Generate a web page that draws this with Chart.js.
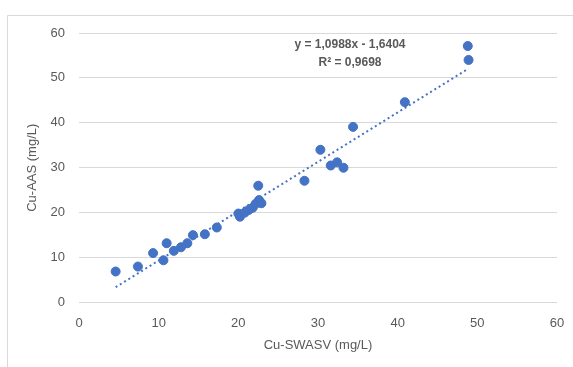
<!DOCTYPE html>
<html>
<head>
<meta charset="utf-8">
<script src="https://cdn.jsdelivr.net/npm/chart.js@4"></script>
<style>
  body { margin: 0; background: #fff; }
  canvas { display: block; }
</style>
</head>
<body>
<canvas id="cuChart" width="573" height="367"></canvas>
<script>
// Cu-SWASV (x) vs Cu-AAS (y), mg/L
const swasv = [4.6, 7.4, 9.3, 10.6, 11.0, 11.9, 12.8, 13.6, 14.3, 15.8, 17.3,
               20.0, 20.2, 20.8, 21.3, 21.8, 22.2, 22.6, 22.9, 22.5,
               28.3, 30.3, 31.6, 32.4, 33.2, 34.4, 40.9, 48.8, 48.9];
const aas   = [6.9, 8.0, 11.0, 9.4, 13.2, 11.5, 12.3, 13.2, 15.0, 15.2, 16.7,
               19.8, 19.1, 20.0, 20.6, 21.1, 22.0, 22.8, 22.1, 26.0,
               27.1, 34.0, 30.5, 31.2, 30.0, 39.1, 44.6, 57.1, 54.0];

// linear trendline end points (y = 1,0988x - 1,6404)
const trendX = [4.6, 48.9];
const trendY = [3.41, 52.09];
const trendLabels = ['y = 1,0988x - 1,6404', 'R² = 0,9698'];

const axisTicks = [0, 10, 20, 30, 40, 50, 60];

const grey = '#595959';
const blue = '#4472C4';
const fontFamily = '"Liberation Sans", Arial, sans-serif';

const points = swasv.map((x, i) => ({ x: x, y: aas[i] }));
const trend = trendX.map((x, i) => ({ x: x, y: trendY[i] }));

/* frame around the chart + equation text */
const frame = {
  id: 'frame',
  beforeDraw(chart) {
    const ctx = chart.ctx;
    ctx.save();
    ctx.fillStyle = '#fff';
    ctx.fillRect(0, 0, chart.width, chart.height);
    ctx.strokeStyle = '#d9d9d9';
    ctx.lineWidth = 1;
    ctx.beginPath();
    ctx.moveTo(7.5, chart.height);
    ctx.lineTo(7.5, 15.5);
    ctx.lineTo(chart.width, 15.5);
    ctx.stroke();
    ctx.restore();
  },
  afterDraw(chart) {
    const ctx = chart.ctx;
    ctx.save();
    ctx.fillStyle = grey;
    ctx.font = 'bold 12px ' + fontFamily;
    ctx.textAlign = 'center';
    ctx.textBaseline = 'middle';
    ctx.fillText(trendLabels[0], 350, 45);
    ctx.fillText(trendLabels[1], 350, 63);
    ctx.restore();
  }
};

new Chart(document.getElementById('cuChart'), {
  type: 'scatter',
  data: {
    datasets: [{
      label: 'Cu',
      data: points,
      backgroundColor: blue,
      borderColor: blue,
      pointRadius: 4.5,
      pointHoverRadius: 4.5
    }, {
      type: 'line',
      label: 'Linear',
      data: trend,
      borderColor: blue,
      borderWidth: 2,
      borderDash: [2, 3],
      pointRadius: 0,
      fill: false
    }]
  },
  options: {
    responsive: false,
    animation: false,
    events: [],
    layout: { padding: { left: 0, top: 33, right: 16, bottom: 0 } },
    plugins: { legend: { display: false }, tooltip: { enabled: false } },
    scales: {
      x: {
        type: 'linear',
        min: 0, max: 60,
        afterBuildTicks: s => { s.ticks = axisTicks.map(v => ({ value: v })); },
        afterFit: s => { s.height = 64.5; s.paddingLeft = 0; s.paddingRight = 0; },
        grid: { display: false, drawTicks: false },
        border: { display: false },
        ticks: { color: grey, padding: 13, font: { family: fontFamily, size: 13 } },
        title: {
          display: true, text: 'Cu-SWASV (mg/L)', color: grey,
          font: { family: fontFamily, size: 13 }, padding: { top: 0, bottom: 14 }
        }
      },
      y: {
        min: 0, max: 60,
        afterBuildTicks: s => { s.ticks = axisTicks.map(v => ({ value: v })); },
        afterFit: s => { s.width = 79; s.paddingTop = 0; s.paddingBottom = 0; },
        grid: { color: '#d9d9d9', lineWidth: 1, drawTicks: false },
        border: { display: false },
        ticks: { color: grey, padding: 14, font: { family: fontFamily, size: 13 } },
        title: {
          display: true, text: 'Cu-AAS (mg/L)', color: grey,
          font: { family: fontFamily, size: 13 }, padding: { top: 25, bottom: 0 }
        }
      }
    }
  },
  plugins: [frame]
});
</script>
</body>
</html>
